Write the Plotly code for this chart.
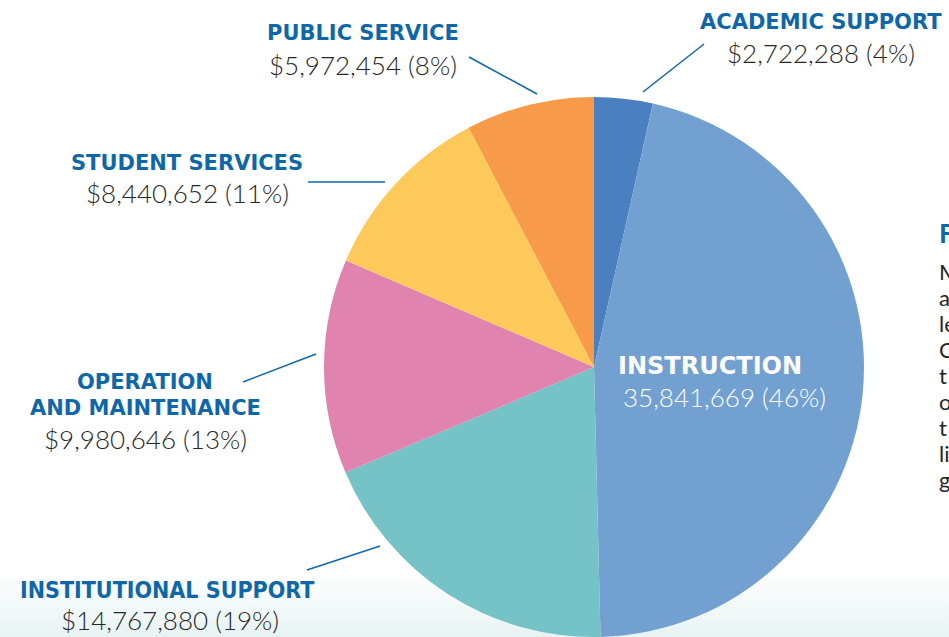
import plotly.graph_objects as go

categories = ["ACADEMIC SUPPORT", "INSTRUCTION", "INSTITUTIONAL SUPPORT",
              "OPERATION AND MAINTENANCE", "STUDENT SERVICES", "PUBLIC SERVICE"]
values = [2722288, 35841669, 14767880, 9980646, 8440652, 5972454]
value_labels = ["$2,722,288 (4%)", "35,841,669 (46%)", "$14,767,880 (19%)",
                "$9,980,646 (13%)", "$8,440,652 (11%)", "$5,972,454 (8%)"]
colors = ["#4a80c0", "#72a1d1", "#75c3c6", "#e083ae", "#fec95b", "#f79a49"]
side_heading = "F"
side_words = ["M", "a", "le", "C", "t", "o", "t", "li", "g"]

W, H = 949, 637
BLUE = "#0f67a9"
GREY = "#262626"
TITLE_FONT = "'DejaVu Sans', sans-serif"
VALUE_FONT = "Lato, 'Open Sans', sans-serif"

fig = go.Figure()

# subtle bottom gradient background
fig.add_trace(go.Scatter(
    x=[0, W, W, 0, 0], y=[570, 570, H, H, 570], mode="lines",
    line=dict(width=0), fill="toself", hoverinfo="skip", showlegend=False,
    fillgradient=dict(type="vertical", start=570, stop=H,
                      colorscale=[[0, "rgba(255,255,255,1)"], [1, "#e8f3f3"]]),
))

fig.add_trace(go.Pie(
    labels=categories, values=values, sort=False, direction="clockwise",
    rotation=0, textinfo="none", hoverinfo="label+value",
    marker=dict(colors=colors, line=dict(color="white", width=0)),
    domain=dict(x=[324 / W, 864 / W], y=[0, 540 / H]),
    showlegend=False,
))

# leader lines
leaders = [((704, 44), (643, 92)), ((469, 57), (537, 94)), ((308, 182), (385, 182)),
           ((243, 382), (316, 354)), ((307, 570), (380, 546))]
shapes = []
for (x0, y0), (x1, y1) in leaders:
    shapes.append(dict(type="line", xref="x", yref="y", x0=x0, y0=y0, x1=x1, y1=y1,
                       line=dict(color=BLUE, width=1.5), layer="above"))

annotations = []
def title(text, x, y, size=21, family=TITLE_FONT, color=BLUE):
    annotations.append(dict(text="<b>%s</b>" % text, x=x, y=y, xref="x", yref="y",
                            showarrow=False, xanchor="center", yanchor="middle",
                            font=dict(family=family, size=size, color=color)))

def val(text, x, y, size=26, color=GREY):
    annotations.append(dict(text=text, x=x, y=y, xref="x", yref="y",
                            showarrow=False, xanchor="center", yanchor="middle",
                            font=dict(family=VALUE_FONT, size=size, color=color,
                                      weight=300)))

# academic support
title(categories[0], 821, 22)
val(value_labels[0], 821, 53)
# public service
title(categories[5], 363, 33)
val(value_labels[5], 363, 65)
# student services
title(categories[4], 187, 163)
val(value_labels[4], 187, 193)
# operation and maintenance
title("OPERATION", 145, 382)
title("AND MAINTENANCE", 145, 408)
val(value_labels[3], 145, 439)
# instruction
title(categories[1], 710, 366, size=24, color="white")
val(value_labels[1], 724, 397, color="white")
# institutional support
title(categories[2], 167, 590, size=23,
      family="'DejaVu Sans Condensed', 'DejaVu Sans', sans-serif")
val(value_labels[2], 170, 620)

# text at the right edge (cut off by the frame, as in the reference)
annotations.append(dict(text="<b>%s</b>" % side_heading, x=937, y=232, xref="x", yref="y",
                        showarrow=False, xanchor="left", yanchor="middle",
                        font=dict(family=VALUE_FONT, size=27, color=BLUE)))
for i, w in enumerate(side_words):
    annotations.append(dict(text=w, x=937, y=271 + 26 * i, xref="x", yref="y",
                            showarrow=False, xanchor="left", yanchor="middle",
                            font=dict(family=VALUE_FONT, size=22, color=GREY)))

fig.update_layout(
    width=W, height=H, margin=dict(l=0, r=0, t=0, b=0),
    paper_bgcolor="white", plot_bgcolor="rgba(0,0,0,0)",
    xaxis=dict(range=[0, W], visible=False, fixedrange=True, domain=[0, 1]),
    yaxis=dict(range=[H, 0], visible=False, fixedrange=True, domain=[0, 1]),
    shapes=shapes, annotations=annotations, showlegend=False,
)

fig.write_html("out.html", config={"displayModeBar": False},
               post_script="document.body.style.margin='0';document.body.style.padding='0';")
